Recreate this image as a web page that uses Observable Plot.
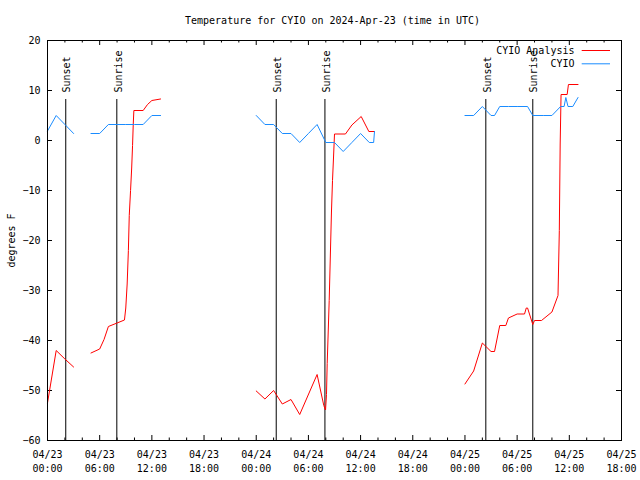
<!DOCTYPE html>
<html><head><meta charset="utf-8">
<script src="https://cdn.jsdelivr.net/npm/d3@7"></script>
<script src="https://cdn.jsdelivr.net/npm/@observablehq/plot@0.6"></script>
<style>html,body{margin:0;padding:0;background:#fff} svg{display:block}</style>
</head><body><div id="chart"></div>
<script>
// Hours since 2024-04-23 00:00 UTC; null marks a gap in the record
const analysisHours = [0, 1, 2, 3, null,
  5, 6, 6.5, 7, 8, 8.85, 9.0, 9.16, 9.3, 9.4, 9.55, 9.68, 9.78, 9.86, 9.93, 11, 11.5, 12, 13, null,
  24, 25, 26, 27, 28, 29, 31, 31.77, 31.97, 32.08, 32.16, 32.27, 32.39, 32.65, 32.77, 32.89, 33, 34.26, 35, 36.07, 36.95, 37.6, null,
  48, 49, 50, 51, 51.4, 52, 52.7, 53, 54, 54.85, 55.05, 55.2, 55.8, 56, 56.8, 58, 58.7, 58.85, 58.95, 59.05, 59.75, 59.9, 61];
const analysisTemps = [-52.5, -42, -43.7, -45.3, null,
  -42.5, -41.7, -39.8, -37.2, -36.5, -35.9, -33.5, -28.7, -22, -15, -10, -5.5, -1, 3.3, 6, 6, 7.2, 8, 8.3, null,
  -50.1, -51.7, -50, -52.7, -51.8, -54.8, -46.8, -53, -53.9, -50.8, -44.6, -38.7, -32, -14.3, -8, -3.3, 1.3, 1.3, 3.1, 4.8, 1.8, 1.8, null,
  -48.7, -46.1, -40.5, -42.2, -42.2, -37, -37, -35.5, -34.7, -34.7, -33.5, -33.5, -36.8, -36, -36, -34.3, -31, -18, -0.7, 9.2, 9.2, 11.2, 11.2];

const obsHours = [0, 1, 2, 3, null,
  5, 6, 7, 8, 9, 10, 11, 12, 13, null,
  24, 25, 26, 27, 28, 29, 30, 31, 32, 33, 34, 35, 36, 37, 37.5, 37.6, null,
  48, 49, 50, 51, 51.4, 52, 53, 54, 55.2, 55.8, 57, 58, 59, 59.4, 59.6, 59.85, 60.4, 61];
const obsTemps = [1.9, 5.0, 3.2, 1.4, null,
  1.4, 1.4, 3.2, 3.2, 3.2, 3.2, 3.2, 5.0, 5.0, null,
  5.0, 3.2, 3.2, 1.4, 1.4, -0.4, 1.4, 3.2, -0.4, -0.4, -2.2, -0.4, 1.4, -0.4, -0.4, 1.8, null,
  5.0, 5.0, 6.8, 5.0, 5.0, 6.8, 6.8, 6.8, 6.8, 5.0, 5.0, 5.0, 6.8, 6.8, 8.6, 6.8, 6.8, 8.6];

const sunHours = [2.1, 7.97, 26.3, 31.9, 50.4, 55.8];
const sunLabels = ["Sunset", "Sunrise", "Sunset", "Sunrise", "Sunset", "Sunrise"];

const yTicks = [-60, -50, -40, -30, -20, -10, 0, 10, 20];
const seriesNames = ["CYIO Analysis", "CYIO"];
const titleText = "Temperature for CYIO on 2024-Apr-23 (time in UTC)";
const yLabel = "degrees F";

const start = Date.UTC(2024, 3, 23);
const toDate = h => h == null ? null : new Date(start + h * 3600e3);
const xStart = toDate(0), xEnd = toDate(66);

const analysis = analysisHours.map((h, i) => ({time: toDate(h), temp: analysisTemps[i]}));
const obs = obsHours.map((h, i) => ({time: toDate(h), temp: obsTemps[i]}));
const sunEvents = sunHours.map((h, i) => ({time: toDate(h), label: sunLabels[i]}));

const majorTicks = d3.utcHour.every(6).range(xStart, new Date(+xEnd + 1));
const minorTicks = d3.utcHour.every(2).range(xStart, new Date(+xEnd + 1)).filter(d => d.getUTCHours() % 6 !== 0);

const W = 640, H = 480, ML = 47, MR = 19, MT = 40, MB = 40;
const FW = W - ML - MR, FH = H - MT - MB;
const FONT = "DejaVu Sans Mono";
const RED = "#ff0000", BLUE = "#1a8cff";
const fmtD = d3.utcFormat("%m/%d"), fmtT = d3.utcFormat("%H:%M");

const chart = Plot.plot({
  width: W, height: H,
  marginLeft: ML, marginRight: MR, marginTop: MT, marginBottom: MB,
  style: {fontFamily: FONT, fontSize: "10px", background: "#fff", color: "#000"},
  x: {type: "utc", domain: [xStart, xEnd]},
  y: {domain: [-60, 20]},
  marks: [
    Plot.axisX({ticks: majorTicks, anchor: "bottom", tickSize: 0, tickPadding: 8,
      tickFormat: d => fmtD(d) + "\n" + fmtT(d), lineHeight: 1.38, fontFamily: FONT, fontSize: 10, label: null}),
    Plot.axisY({ticks: yTicks, anchor: "left", tickSize: 0, tickPadding: 7, fontFamily: FONT, fontSize: 10, label: null}),
    // inward tick marks (bottom/top, left/right)
    Plot.ruleX(majorTicks, {x: d => d, insetTop: FH - 5, stroke: "#000"}),
    Plot.ruleX(majorTicks, {x: d => d, insetBottom: FH - 5, stroke: "#000"}),
    Plot.ruleX(minorTicks, {x: d => d, insetTop: FH - 2.5, stroke: "#000"}),
    Plot.ruleX(minorTicks, {x: d => d, insetBottom: FH - 2.5, stroke: "#000"}),
    Plot.ruleY(yTicks, {y: d => d, insetRight: FW - 5, stroke: "#000"}),
    Plot.ruleY(yTicks, {y: d => d, insetLeft: FW - 5, stroke: "#000"}),
    // sunrise / sunset
    Plot.ruleX(sunEvents, {x: "time", insetTop: 59, stroke: "#000", strokeWidth: 1}),
    Plot.text(sunEvents, {x: "time", text: "label", frameAnchor: "top", rotate: -90,
      textAnchor: "start", lineAnchor: "middle", dy: 52, dx: 1.5, fontFamily: FONT, fontSize: 10, fill: "#000"}),
    // data
    Plot.line(analysis, {x: "time", y: "temp", stroke: RED, strokeWidth: 1, curve: "linear"}),
    Plot.line(obs, {x: "time", y: "temp", stroke: BLUE, strokeWidth: 1, curve: "linear"}),
    // legend
    Plot.text([seriesNames[0]], {text: d => d, frameAnchor: "top-right", textAnchor: "end", lineAnchor: "middle",
      dx: -47, dy: 10, fontFamily: FONT, fontSize: 10, fill: "#000"}),
    Plot.text([seriesNames[1]], {text: d => d, frameAnchor: "top-right", textAnchor: "end", lineAnchor: "middle",
      dx: -47, dy: 23.3, fontFamily: FONT, fontSize: 10, fill: "#000"}),
    Plot.ruleY([20], {y: d => d, dy: 10, insetLeft: FW - 39.3, insetRight: 11, stroke: RED}),
    Plot.ruleY([20], {y: d => d, dy: 23.3, insetLeft: FW - 39.3, insetRight: 11, stroke: BLUE}),
    // title and y label
    Plot.text([titleText], {text: d => d, frameAnchor: "top", lineAnchor: "middle", dy: -20, dx: -2,
      fontFamily: FONT, fontSize: 10, fill: "#000"}),
    Plot.text([yLabel], {text: d => d, frameAnchor: "left", rotate: -90, textAnchor: "middle", lineAnchor: "middle",
      dx: -36, fontFamily: FONT, fontSize: 10, fill: "#000"}),
    Plot.frame({stroke: "#000"})
  ]
});
document.getElementById("chart").appendChild(chart);
</script>
</body></html>
